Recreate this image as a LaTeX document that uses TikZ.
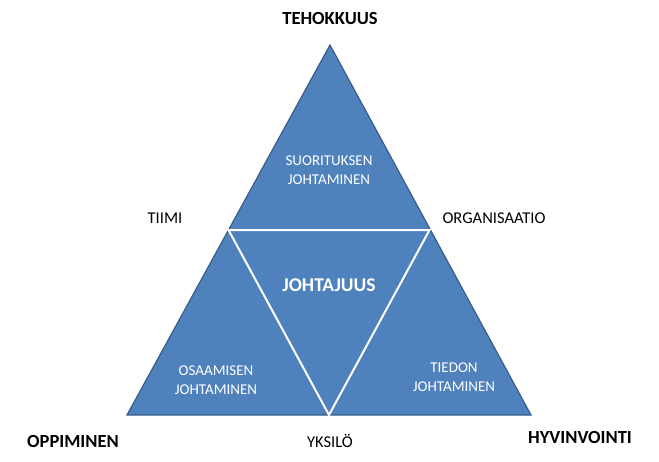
\documentclass[tikz,border=0pt]{standalone}
\usepackage{fontspec}
\setmainfont{Carlito}
\begin{document}
\begin{tikzpicture}[x=1pt,y=-1pt,
  lbl/.style={font=\fontsize{16.5}{19}\selectfont},
  blbl/.style={font=\fontsize{18.5}{21}\selectfont\bfseries},
  wlbl/.style={text=white,align=center,font=\fontsize{15}{19}\selectfont}]
\useasboundingbox (0,0) rectangle (659,461);
\definecolor{tri}{HTML}{4F81BD}\definecolor{edge}{HTML}{385D8A}
\coordinate (A) at (330,45); \coordinate (B) at (127,415); \coordinate (C) at (531,415);
\coordinate (L) at (228.5,230); \coordinate (R) at (429.5,230); \coordinate (M) at (329,415);
\draw[fill=tri,draw=edge,line width=1.2pt] (A)--(B)--(C)--cycle;
\draw[white,line width=2pt] (L)--(R)--(M)--cycle;
\node[blbl] (t) at (330,18) {TEHOKKUUS};
\node[lbl] (ti) at (165,218) {TIIMI};
\node[lbl] (or) at (494,218) {ORGANISAATIO};
\node[blbl] (op) at (73,441) {OPPIMINEN};
\node[lbl] (yk) at (330,441) {YKSILÖ};
\node[blbl] (hy) at (580,437) {HYVINVOINTI};
\node[wlbl] (s) at (329,170) {SUORITUKSEN\\JOHTAMINEN};
\node[wlbl,font=\fontsize{19.5}{22}\selectfont\bfseries] (j) at (329,285) {JOHTAJUUS};
\node[wlbl] (o) at (216,380) {OSAAMISEN\\JOHTAMINEN};
\node[wlbl] (td) at (454,377) {TIEDON\\JOHTAMINEN};
\end{tikzpicture}
\end{document}
